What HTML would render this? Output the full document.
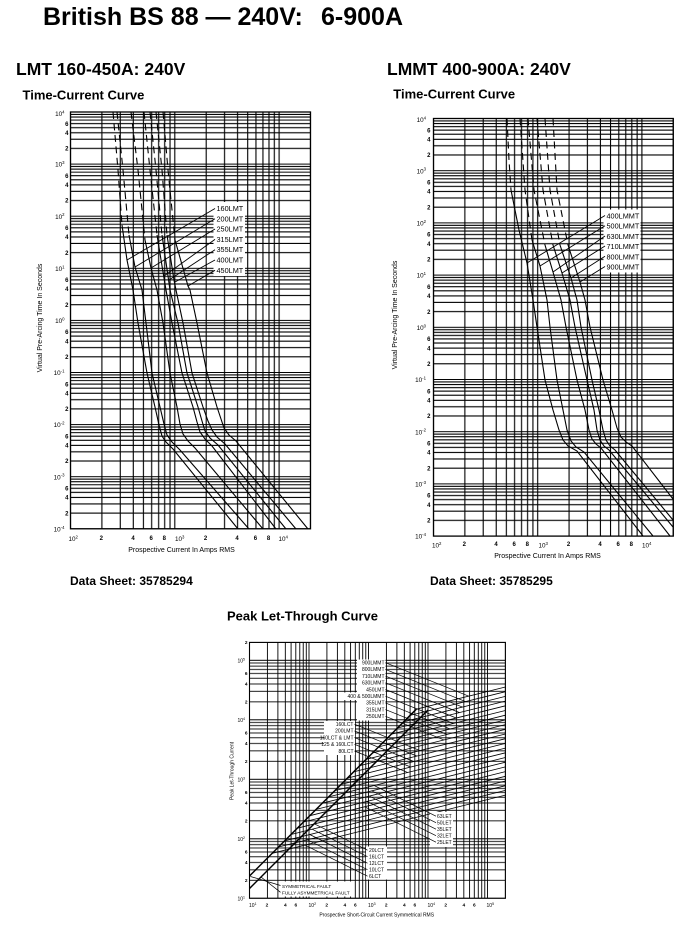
<!DOCTYPE html>
<html>
<head>
<meta charset="utf-8">
<style>
html,body{margin:0;padding:0;background:#fff;}
body{width:695px;height:927px;overflow:hidden;}
svg{display:block;}
text{font-family:"Liberation Sans",Arial,sans-serif;fill:#000;}
</style>
</head>
<body>
<svg width="695" height="927" viewBox="0 0 695 927" xmlns="http://www.w3.org/2000/svg">
<defs>
<pattern id="hL" patternUnits="userSpaceOnUse" x="0" y="112" width="700" height="52.1">
<path d="M0,0H700M0,2.39H700M0,5.05H700M0,8.07H700M0,11.56H700M0,15.68H700M0,20.73H700M0,27.24H700M0,36.42H700M0,52.1H700" stroke="#000" stroke-width="1.1" fill="none"/>
</pattern>
<pattern id="vL" patternUnits="userSpaceOnUse" x="70.5" y="0" width="104.3" height="930">
<path d="M0,0V930M31.4,0V930M49.77,0V930M62.79,0V930M72.9,0V930M81.16,0V930M88.15,0V930M94.19,0V930M99.53,0V930M104.3,0V930" stroke="#000" stroke-width="1.1" fill="none"/>
</pattern>
<pattern id="hR" patternUnits="userSpaceOnUse" x="0" y="118.5" width="700" height="52.2">
<path d="M0,0H700M0,2.39H700M0,5.06H700M0,8.09H700M0,11.58H700M0,15.71H700M0,20.77H700M0,27.3H700M0,36.49H700M0,52.2H700" stroke="#000" stroke-width="1.1" fill="none"/>
</pattern>
<pattern id="vR" patternUnits="userSpaceOnUse" x="433.5" y="0" width="104.2" height="930">
<path d="M0,0V930M31.37,0V930M49.71,0V930M62.73,0V930M72.83,0V930M81.08,0V930M88.06,0V930M94.1,0V930M99.43,0V930M104.2,0V930" stroke="#000" stroke-width="1.1" fill="none"/>
</pattern>
<pattern id="hB" patternUnits="userSpaceOnUse" x="0" y="660.3" width="700" height="59.5">
<path d="M0,0H700M0,2.73H700M0,5.77H700M0,9.22H700M0,13.2H700M0,17.91H700M0,23.68H700M0,31.11H700M0,41.59H700M0,59.5H700" stroke="#000" stroke-width="0.9" fill="none"/>
</pattern>
<pattern id="vB" patternUnits="userSpaceOnUse" x="249.5" y="0" width="59.5" height="930">
<path d="M0,0V930M17.91,0V930M28.39,0V930M35.82,0V930M41.59,0V930M46.3,0V930M50.28,0V930M53.73,0V930M56.78,0V930M59.5,0V930" stroke="#000" stroke-width="0.9" fill="none"/>
</pattern>
</defs>

<!-- Titles -->
<text x="43" y="25" font-size="25" font-weight="bold">British BS 88 — 240V:</text>
<text x="321" y="25" font-size="25" font-weight="bold">6-900A</text>
<text x="16" y="75" font-size="17.5" font-weight="bold">LMT 160-450A: 240V</text>
<text x="387" y="75" font-size="17.5" font-weight="bold">LMMT 400-900A: 240V</text>
<text x="22.5" y="99.3" font-size="13" font-weight="bold">Time-Current Curve</text>
<text x="393.3" y="98.5" font-size="13" font-weight="bold">Time-Current Curve</text>
<text x="70" y="585" font-size="12" font-weight="bold">Data Sheet: 35785294</text>
<text x="430" y="585" font-size="12" font-weight="bold">Data Sheet: 35785295</text>
<text x="227" y="620.5" font-size="13" font-weight="bold">Peak Let-Through Curve</text>

<!-- ============ LEFT CHART ============ -->
<rect x="70.5" y="112" width="240" height="416.8" fill="url(#hL)"/>
<rect x="70.5" y="112" width="240" height="416.8" fill="url(#vL)"/>
<g fill="none" stroke="#000" stroke-width="1.1">
<g stroke-dasharray="7 4.5">
<path d="M113,112 L118,170 122,225"/>
<path d="M117,112 L123,170 129,235"/>
<path d="M131,112 L138,170 145,240"/>
<path d="M144,112 L150,170 157,235"/>
<path d="M150,112 L156,170 162,235"/>
<path d="M156,112 L162,170 167,235"/>
<path d="M163,112 L168,170 175,240"/>
</g>
<path d="M122,225 L127,260 133,290 138,323 147,373 155,407 159,425 162,436 166,442 173,449 238,529"/>
<path d="M129,235 L135,267 142,290 146,323 152,373 160,407 164,424 167,435 172,442 180,450 249,529"/>
<path d="M145,240 L151,268 157,290 163,323 170,373 177,407 180,424 183,434 188,441 195,448 263,529"/>
<path d="M157,235 L163,272 166,290 172,323 182,373 193,407 197,422 200,432 205,439 212,446 276,529"/>
<path d="M162,235 L168,276 170,290 178,323 187,373 198,407 202,421 205,431 210,438 218,445 286,529"/>
<path d="M167,235 L174,280 176,290 183,323 192,373 203,407 208,421 212,430 217,437 225,444 296,529"/>
<path d="M175,240 L188,286 190,290 197,323 207,373 217,407 221,419 224,428 229,435 236,441 308,529"/>
</g>
<rect x="213.5" y="202" width="31.5" height="74" fill="#fff"/>
<g stroke="#000" stroke-width="0.9">
<line x1="215" y1="208.5" x2="127" y2="260"/>
<line x1="215" y1="218.8" x2="135" y2="267"/>
<line x1="215" y1="229" x2="151" y2="268"/>
<line x1="215" y1="239.4" x2="164" y2="276"/>
<line x1="215" y1="249.7" x2="169" y2="280"/>
<line x1="215" y1="260" x2="175" y2="282"/>
<line x1="215" y1="270.3" x2="188" y2="286"/>
</g>
<g font-size="7.3">
<text x="216.5" y="211">160LMT</text>
<text x="216.5" y="221.3">200LMT</text>
<text x="216.5" y="231.6">250LMT</text>
<text x="216.5" y="241.9">315LMT</text>
<text x="216.5" y="252.2">355LMT</text>
<text x="216.5" y="262.5">400LMT</text>
<text x="216.5" y="272.8">450LMT</text>
</g>
<rect x="70.5" y="112" width="240" height="416.8" fill="none" stroke="#000" stroke-width="1.3"/>
<!-- left y ticks -->
<g font-size="6" font-weight="bold" text-anchor="end">
<text x="68.5" y="125.8">6</text><text x="68.5" y="134.9">4</text><text x="68.5" y="150.6">2</text>
<text x="68.5" y="177.9">6</text><text x="68.5" y="187">4</text><text x="68.5" y="202.7">2</text>
<text x="68.5" y="230">6</text><text x="68.5" y="239.1">4</text><text x="68.5" y="254.8">2</text>
<text x="68.5" y="282.1">6</text><text x="68.5" y="291.2">4</text><text x="68.5" y="306.9">2</text>
<text x="68.5" y="334.2">6</text><text x="68.5" y="343.3">4</text><text x="68.5" y="359">2</text>
<text x="68.5" y="386.3">6</text><text x="68.5" y="395.4">4</text><text x="68.5" y="411.1">2</text>
<text x="68.5" y="438.4">6</text><text x="68.5" y="447.5">4</text><text x="68.5" y="463.2">2</text>
<text x="68.5" y="490.5">6</text><text x="68.5" y="499.6">4</text><text x="68.5" y="515.3">2</text>
</g>
<g font-size="6.3" text-anchor="end">
<text x="64.5" y="116">10<tspan dy="-2.6" font-size="4.3">4</tspan></text>
<text x="64.5" y="166.7">10<tspan dy="-2.6" font-size="4.3">3</tspan></text>
<text x="64.5" y="218.8">10<tspan dy="-2.6" font-size="4.3">2</tspan></text>
<text x="64.5" y="270.9">10<tspan dy="-2.6" font-size="4.3">1</tspan></text>
<text x="64.5" y="323">10<tspan dy="-2.6" font-size="4.3">0</tspan></text>
<text x="64.5" y="375.1">10<tspan dy="-2.6" font-size="4.3">-1</tspan></text>
<text x="64.5" y="427.2">10<tspan dy="-2.6" font-size="4.3">-2</tspan></text>
<text x="64.5" y="479.3">10<tspan dy="-2.6" font-size="4.3">-3</tspan></text>
<text x="64.5" y="531.4">10<tspan dy="-2.6" font-size="4.3">-4</tspan></text>
</g>
<!-- left x ticks -->
<g font-size="6" font-weight="bold" text-anchor="middle">
<text x="101.3" y="540">2</text><text x="133" y="540">4</text><text x="151.2" y="540">6</text><text x="164.3" y="540">8</text>
<text x="205.6" y="540">2</text><text x="237" y="540">4</text><text x="255.4" y="540">6</text><text x="268.5" y="540">8</text>
</g>
<g font-size="6.3">
<text x="68.5" y="541">10<tspan dy="-2.6" font-size="4.3">2</tspan></text>
<text x="175" y="541">10<tspan dy="-2.6" font-size="4.3">3</tspan></text>
<text x="278.5" y="541">10<tspan dy="-2.6" font-size="4.3">4</tspan></text>
</g>
<text x="181.5" y="552" font-size="7" text-anchor="middle">Prospective Current In Amps RMS</text>
<text transform="translate(42,318) rotate(-90)" font-size="7" text-anchor="middle">Virtual Pre-Arcing Time In Seconds</text>

<!-- ============ RIGHT CHART ============ -->
<rect x="433.5" y="118.5" width="239.8" height="417.6" fill="url(#hR)"/>
<rect x="433.5" y="118.5" width="239.8" height="417.6" fill="url(#vR)"/>
<g fill="none" stroke="#000" stroke-width="1.1">
<g stroke-dasharray="7 4.5">
<path d="M507,118.5 L509,160 511,190"/>
<path d="M520,118.5 L525,190 532,240"/>
<path d="M528,118.5 L534,190 545,245"/>
<path d="M537,118.5 L543,190 553,245"/>
<path d="M545,118.5 L550,190 560,245"/>
<path d="M553,118.5 L557,190 568,245"/>
</g>
<path d="M511,190 L519,230 527,263 533,300 537,327 545,380 553,410 559,430 563,440 568,446 577,451 643,536"/>
<path d="M532,240 L540,266 547,300 550,327 557,380 563,410 567,430 571,441 576,447 584,452 653,536"/>
<path d="M545,245 L553,272 561,300 566,327 577,380 585,410 589,430 592,439 596,444 601,448 670,536"/>
<path d="M553,245 L562,273 570,300 575,327 587,380 594,410 597,430 600,440 604,446 609,450 673,527"/>
<path d="M560,245 L571,278 577,300 581,327 592,380 599,410 603,430 606,440 610,446 615,450 673,520"/>
<path d="M568,245 L580,282 585,300 590,327 603,380 612,410 617,428 621,437 626,442 632,446 673,499"/>
</g>
<rect x="603.5" y="209.5" width="37" height="63" fill="#fff"/>
<g stroke="#000" stroke-width="0.9">
<line x1="605" y1="215.5" x2="527" y2="263"/>
<line x1="605" y1="225.7" x2="540" y2="266"/>
<line x1="605" y1="236" x2="553" y2="272"/>
<line x1="605" y1="246" x2="562" y2="273"/>
<line x1="605" y1="256.3" x2="571" y2="278"/>
<line x1="605" y1="266.5" x2="580" y2="282"/>
</g>
<g font-size="7.3">
<text x="606.5" y="218.5">400LMMT</text>
<text x="606.5" y="228.7">500LMMT</text>
<text x="606.5" y="238.9">630LMMT</text>
<text x="606.5" y="249.1">710LMMT</text>
<text x="606.5" y="259.3">800LMMT</text>
<text x="606.5" y="269.5">900LMMT</text>
</g>
<rect x="433.5" y="118.5" width="239.8" height="417.6" fill="none" stroke="#000" stroke-width="1.3"/>
<g font-size="6" font-weight="bold" text-anchor="end">
<text x="430.5" y="132.3">6</text><text x="430.5" y="141.5">4</text><text x="430.5" y="157.2">2</text>
<text x="430.5" y="184.5">6</text><text x="430.5" y="193.7">4</text><text x="430.5" y="209.4">2</text>
<text x="430.5" y="236.7">6</text><text x="430.5" y="245.9">4</text><text x="430.5" y="261.6">2</text>
<text x="430.5" y="288.9">6</text><text x="430.5" y="298.1">4</text><text x="430.5" y="313.8">2</text>
<text x="430.5" y="341.1">6</text><text x="430.5" y="350.3">4</text><text x="430.5" y="366">2</text>
<text x="430.5" y="393.3">6</text><text x="430.5" y="402.5">4</text><text x="430.5" y="418.2">2</text>
<text x="430.5" y="445.5">6</text><text x="430.5" y="454.7">4</text><text x="430.5" y="470.4">2</text>
<text x="430.5" y="497.7">6</text><text x="430.5" y="506.9">4</text><text x="430.5" y="522.6">2</text>
</g>
<g font-size="6.3" text-anchor="end">
<text x="426" y="122">10<tspan dy="-2.6" font-size="4.3">4</tspan></text>
<text x="426" y="173.3">10<tspan dy="-2.6" font-size="4.3">3</tspan></text>
<text x="426" y="225.5">10<tspan dy="-2.6" font-size="4.3">2</tspan></text>
<text x="426" y="277.7">10<tspan dy="-2.6" font-size="4.3">1</tspan></text>
<text x="426" y="329.9">10<tspan dy="-2.6" font-size="4.3">0</tspan></text>
<text x="426" y="382.1">10<tspan dy="-2.6" font-size="4.3">-1</tspan></text>
<text x="426" y="434.3">10<tspan dy="-2.6" font-size="4.3">-2</tspan></text>
<text x="426" y="486.5">10<tspan dy="-2.6" font-size="4.3">-3</tspan></text>
<text x="426" y="538.7">10<tspan dy="-2.6" font-size="4.3">-4</tspan></text>
</g>
<g font-size="6" font-weight="bold" text-anchor="middle">
<text x="464.3" y="546">2</text><text x="496" y="546">4</text><text x="514.2" y="546">6</text><text x="527.3" y="546">8</text>
<text x="568.5" y="546">2</text><text x="600" y="546">4</text><text x="618.2" y="546">6</text><text x="631.3" y="546">8</text>
</g>
<g font-size="6.3">
<text x="432" y="547.5">10<tspan dy="-2.6" font-size="4.3">2</tspan></text>
<text x="538.5" y="547.5">10<tspan dy="-2.6" font-size="4.3">3</tspan></text>
<text x="642" y="547.5">10<tspan dy="-2.6" font-size="4.3">4</tspan></text>
</g>
<text x="547.5" y="558" font-size="7" text-anchor="middle">Prospective Current In Amps RMS</text>
<text transform="translate(397,315) rotate(-90)" font-size="7" text-anchor="middle">Virtual Pre-Arcing Time In Seconds</text>

<!-- ============ BOTTOM CHART ============ -->
<rect x="249.5" y="642.4" width="255.9" height="255.9" fill="url(#hB)"/>
<rect x="249.5" y="642.4" width="255.9" height="255.9" fill="url(#vB)"/>
<g fill="none" stroke="#000" stroke-width="0.8">
<path d="M416.3,709.2L505.4,687"/>
<path d="M410.1,715.4L505.4,691.7"/>
<path d="M403.8,721.7L505.4,696.4"/>
<path d="M397.5,728L505.4,701.1"/>
<path d="M391.3,734.2L505.4,705.8"/>
<path d="M385,740.5L505.4,710.5"/>
<path d="M378.7,746.8L505.4,715.2"/>
<path d="M372.5,753L505.4,719.9"/>
<path d="M366.2,759.3L505.4,724.6"/>
<path d="M359.9,765.6L505.4,729.3"/>
<path d="M353.7,771.8L505.4,734"/>
<path d="M347.4,778.1L505.4,738.7"/>
<path d="M341.1,784.4L505.4,743.4"/>
<path d="M334.9,790.6L505.4,748.1"/>
<path d="M328.6,796.9L505.4,752.8"/>
<path d="M322.3,803.2L505.4,757.5"/>
<path d="M316.1,809.4L505.4,762.2"/>
<path d="M309.8,815.7L505.4,766.9"/>
<path d="M303.5,822L505.4,771.6"/>
<path d="M297.3,828.2L505.4,776.3"/>
<path d="M291,834.5L505.4,781"/>
<path d="M284.7,840.8L505.4,785.7"/>
<path d="M278.5,847L505.4,790.4"/>
<path d="M272.2,853.3L505.4,795.1"/>
</g>
<g fill="none" stroke="#000" stroke-width="1.5">
<path d="M249.5,876L416.3,709.2"/>
<path d="M249.5,888.5L428,710"/>
</g>
<!-- label boxes -->
<g fill="#fff">
<rect x="357" y="659.5" width="28.5" height="61"/>
<rect x="343.5" y="692.5" width="14" height="7.5"/>
<rect x="324" y="721" width="31" height="34"/>
<rect x="430" y="812" width="23" height="35"/>
<rect x="366" y="846.5" width="21" height="33"/>
<rect x="279" y="881.5" width="74" height="15"/>
</g>
<g stroke="#000" stroke-width="0.7">
<line x1="385.5" y1="662.7" x2="468.5" y2="696.1"/>
<line x1="385.5" y1="669.4" x2="465.5" y2="701.6"/>
<line x1="385.5" y1="676.1" x2="462.4" y2="707.1"/>
<line x1="385.5" y1="682.8" x2="459.3" y2="712.5"/>
<line x1="385.5" y1="689.5" x2="456.2" y2="718"/>
<line x1="385.5" y1="696.2" x2="453.2" y2="723.5"/>
<line x1="385.5" y1="702.9" x2="450.1" y2="728.9"/>
<line x1="385.5" y1="709.6" x2="447" y2="734.4"/>
<line x1="385.5" y1="716.3" x2="443.9" y2="739.9"/>
<line x1="354.5" y1="724.2" x2="419.9" y2="750.6"/>
<line x1="354.5" y1="730.9" x2="416.8" y2="756"/>
<line x1="354.5" y1="737.6" x2="413.8" y2="761.5"/>
<line x1="354.5" y1="744.3" x2="410.7" y2="767"/>
<line x1="354.5" y1="751" x2="407.6" y2="772.4"/>
<line x1="436" y1="816.2" x2="374.1" y2="785.5"/>
<line x1="436" y1="822.7" x2="371.7" y2="790.8"/>
<line x1="436" y1="829.2" x2="369.3" y2="796.1"/>
<line x1="436" y1="835.7" x2="366.9" y2="801.4"/>
<line x1="436" y1="842.2" x2="364.5" y2="806.7"/>
<line x1="367.5" y1="850.2" x2="314.5" y2="823.9"/>
<line x1="367.5" y1="856.7" x2="312.1" y2="829.2"/>
<line x1="367.5" y1="863.2" x2="309.7" y2="834.5"/>
<line x1="367.5" y1="869.7" x2="307.3" y2="839.8"/>
<line x1="367.5" y1="876.2" x2="304.9" y2="845.1"/>
<line x1="280.5" y1="885.5" x2="250.5" y2="876.5"/>
<line x1="280.5" y1="892.3" x2="261" y2="877"/>
</g>
<g font-size="5" text-anchor="end">
<text x="384.5" y="664.5">900LMMT</text>
<text x="384.5" y="671.2">800LMMT</text>
<text x="384.5" y="677.9">710LMMT</text>
<text x="384.5" y="684.6">630LMMT</text>
<text x="384.5" y="691.3">450LMT</text>
<text x="384.5" y="698">400 &amp; 500LMMT</text>
<text x="384.5" y="704.7">355LMT</text>
<text x="384.5" y="711.4">315LMT</text>
<text x="384.5" y="718.1">250LMT</text>
<text x="353.5" y="726">160LCT</text>
<text x="353.5" y="732.7">200LMT</text>
<text x="353.5" y="739.4">160LCT &amp; LMT</text>
<text x="353.5" y="746.1">125 &amp; 160LCT</text>
<text x="353.5" y="752.8">80LCT</text>
</g>
<g font-size="5">
<text x="437" y="818">63LET</text>
<text x="437" y="824.5">50LET</text>
<text x="437" y="831">35LET</text>
<text x="437" y="837.5">32LET</text>
<text x="437" y="844">25LET</text>
<text x="369" y="852">20LCT</text>
<text x="369" y="858.5">16LCT</text>
<text x="369" y="865">12LCT</text>
<text x="369" y="871.5">10LCT</text>
<text x="369" y="878">6LCT</text>
<text x="282" y="887.8" font-size="4.7">SYMMETRICAL FAULT</text>
<text x="282" y="894.6" font-size="4.7">FULLY ASYMMETRICAL FAULT</text>
</g>
<rect x="249.5" y="642.4" width="255.9" height="255.9" fill="none" stroke="#000" stroke-width="1.1"/>
<g font-size="4.8" font-weight="bold" text-anchor="end">
<text x="247.5" y="644.1">2</text>
<text x="247.5" y="675.2">6</text><text x="247.5" y="685.7">4</text><text x="247.5" y="703.6">2</text>
<text x="247.5" y="734.7">6</text><text x="247.5" y="745.2">4</text><text x="247.5" y="763.1">2</text>
<text x="247.5" y="794.2">6</text><text x="247.5" y="804.7">4</text><text x="247.5" y="822.6">2</text>
<text x="247.5" y="853.7">6</text><text x="247.5" y="864.2">4</text><text x="247.5" y="882.1">2</text>
</g>
<g font-size="5" text-anchor="end">
<text x="245" y="662.3">10<tspan dy="-2" font-size="3.5">5</tspan></text>
<text x="245" y="721.8">10<tspan dy="-2" font-size="3.5">4</tspan></text>
<text x="245" y="781.3">10<tspan dy="-2" font-size="3.5">3</tspan></text>
<text x="245" y="840.8">10<tspan dy="-2" font-size="3.5">2</tspan></text>
<text x="245" y="900.3">10<tspan dy="-2" font-size="3.5">1</tspan></text>
</g>
<g font-size="4.8" font-weight="bold" text-anchor="middle">
<text x="267" y="906.5">2</text><text x="285.3" y="906.5">4</text><text x="295.8" y="906.5">6</text>
<text x="326.7" y="906.5">2</text><text x="344.8" y="906.5">4</text><text x="355.3" y="906.5">6</text>
<text x="386.2" y="906.5">2</text><text x="404.3" y="906.5">4</text><text x="414.8" y="906.5">6</text>
<text x="445.7" y="906.5">2</text><text x="463.8" y="906.5">4</text><text x="474.3" y="906.5">6</text>
</g>
<g font-size="5">
<text x="249" y="907">10<tspan dy="-2" font-size="3.5">1</tspan></text>
<text x="308.5" y="907">10<tspan dy="-2" font-size="3.5">2</tspan></text>
<text x="368" y="907">10<tspan dy="-2" font-size="3.5">3</tspan></text>
<text x="427.5" y="907">10<tspan dy="-2" font-size="3.5">4</tspan></text>
<text x="486.5" y="907">10<tspan dy="-2" font-size="3.5">5</tspan></text>
</g>
<text x="376.7" y="916.5" font-size="5" text-anchor="middle">Prospective Short-Circuit Current Symmetrical RMS</text>
<text transform="translate(233.5,771) rotate(-90)" font-size="5" text-anchor="middle">Peak Let-Through Current</text>
</svg>
</body>
</html>
